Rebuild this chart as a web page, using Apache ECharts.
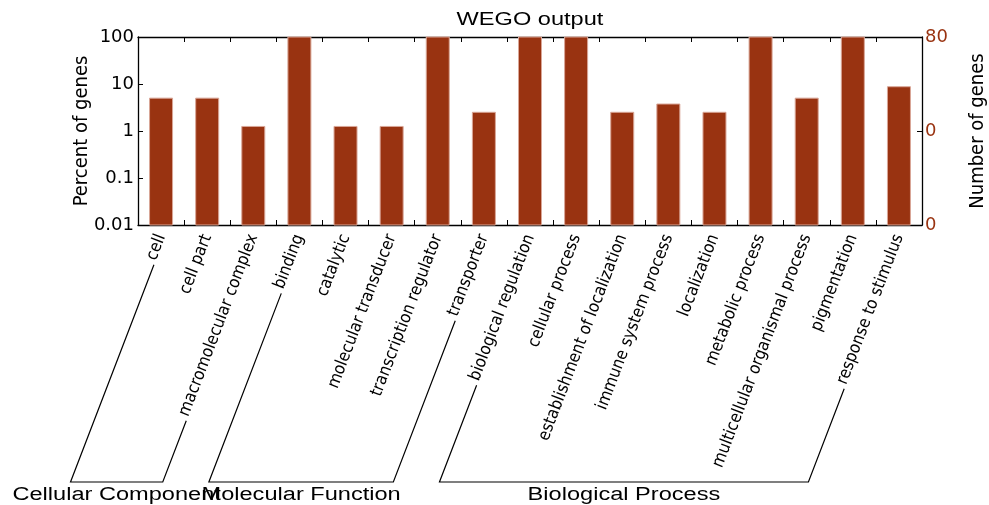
<!DOCTYPE html>
<html><head><meta charset="utf-8">
<script src="https://cdn.jsdelivr.net/npm/echarts@6/dist/echarts.min.js"></script>
<style>html,body{margin:0;padding:0;background:#fff}#c{width:989px;height:505px}</style>
</head><body><div id="c"></div>
<script>
const categories = ['cell','cell part','macromolecular complex','binding','catalytic','molecular transducer','transcription regulator','transporter','biological regulation','cellular process','establishment of localization','immune system process','localization','metabolic process','multicellular organismal process','pigmentation','response to stimulus'];
const percentValues = [5,5,1.25,100,1.25,1.25,100,2.5,100,100,2.5,3.75,2.5,100,5,100,8.75];
const leftTickLabels = ['0.01','0.1','1','10','100'];
const rightTickLabels = ['0','0','80'];
const groupNames = ['Cellular Component','Molecular Function','Biological Process'];
const groupFirst = [0,3,8];
const groupLast = [2,7,16];
const titleText = 'WEGO output';

const barColor = '#993311';
const condFamily = '"DejaVu Sans Condensed", "Liberation Sans Narrow", sans-serif';
const LABEL_SIZE = 17;
const labelFont = LABEL_SIZE + 'px ' + condFamily;
const ROT = 69, LABEL_MARGIN = 10, LABEL_PAD_TOP = 8, AXIS_MIN = 0.01;

const chart = echarts.init(document.getElementById('c'), null, {renderer:'canvas'});
const axisLine = {show:true, lineStyle:{color:'#000', width:1.3}};
chart.setOption({
  animation:false,
  backgroundColor:'#fff',
  grid:{left:138, right:67, top:37, bottom:280, containLabel:false, outerBoundsMode:'none'},
  xAxis:[{
    type:'category', data:categories, position:'bottom',
    axisLine:axisLine,
    axisTick:{show:true, inside:true, length:5, interval:0, lineStyle:{color:'#000'}},
    axisLabel:{interval:0, rotate:ROT, margin:LABEL_MARGIN, color:'#000', padding:[LABEL_PAD_TOP,0,0,0],
      fontFamily:condFamily, fontSize:LABEL_SIZE}
  },{
    type:'category', data:categories, position:'top',
    axisLine:axisLine,
    axisTick:{show:true, inside:true, length:5, interval:0, lineStyle:{color:'#000'}},
    axisLabel:{show:false}
  }],
  yAxis:[{
    type:'log', logBase:10, min:AXIS_MIN, max:100, position:'left',
    name:'Percent of genes', nameLocation:'middle', nameRotate:90, nameGap:46, nameMoveOverlap:false,
    nameTextStyle:{color:'#000', fontFamily:condFamily, fontSize:20},
    axisLine:axisLine,
    axisTick:{show:true, inside:true, length:5, lineStyle:{color:'#000'}},
    splitLine:{show:false},
    axisLabel:{margin:4, color:'#000', fontFamily:'"DejaVu Sans", sans-serif', fontSize:18,
      formatter:v=>leftTickLabels[Math.round(Math.log10(v))+2]}
  },{
    type:'value', min:0, max:2, interval:1, position:'right',
    name:'Number of genes', nameLocation:'middle', nameRotate:90, nameGap:46, nameMoveOverlap:false,
    nameTextStyle:{color:'#000', fontFamily:condFamily, fontSize:20},
    axisLine:axisLine,
    axisTick:{show:true, inside:true, length:5, lineStyle:{color:'#000'}},
    splitLine:{show:false},
    axisLabel:{margin:3, color:barColor, fontFamily:'"DejaVu Sans", sans-serif', fontSize:18,
      formatter:v=>rightTickLabels[Math.round(v)]}
  }],
  series:[{
    type:'custom', xAxisIndex:0, yAxisIndex:0,
    data:percentValues.map((v,i)=>[i,v]),
    encode:{x:0, y:1},
    renderItem:function(params, api){
      const top = api.coord([api.value(0), api.value(1)]);
      const bot = api.coord([api.value(0), AXIS_MIN]);
      const w = 23;
      return {type:'rect', shape:{x:top[0]-w/2, y:top[1], width:w, height:bot[1]-top[1]},
        style:{fill:barColor, stroke:'#d9a697', lineWidth:1}};
    }
  }]
});

function drawAnnotations(){
  const ctx = document.createElement('canvas').getContext('2d');
  ctx.font = labelFont;
  const th = ROT*Math.PI/180;
  const ux = Math.cos(th), uy = -Math.sin(th);
  const nx = Math.sin(th), ny = Math.cos(th);
  const axisY = chart.convertToPixel({yAxisIndex:0}, AXIS_MIN);
  const baseY = 482, gap = 4, shift = LABEL_PAD_TOP/2;
  const els = [];
  const plotL = chart.convertToPixel({xAxisIndex:0}, categories[0]);
  const plotR = chart.convertToPixel({xAxisIndex:0}, categories[categories.length-1]);
  els.push({type:'text', x:(plotL+plotR)/2, y:20, scaleX:1.31,
    style:{text:titleText, font:'18px "Liberation Sans", Arial, sans-serif', fill:'#000', align:'center', verticalAlign:'middle'}});
  groupNames.forEach((name,gi)=>{
    const ends = [groupFirst[gi], groupLast[gi]].map(i=>{
      const ex = chart.convertToPixel({xAxisIndex:0}, categories[i]) + shift*nx;
      const ey = axisY + LABEL_MARGIN + shift*ny;
      const L = ctx.measureText(categories[i]).width;
      const sx = ex - (L+gap)*ux, sy = ey - (L+gap)*uy;
      const t = (baseY - sy)/(-uy);
      return {s:[sx,sy], b:[sx - t*ux, baseY]};
    });
    els.push({type:'polyline', shape:{points:[ends[0].s, ends[0].b, ends[1].b, ends[1].s]},
      style:{stroke:'#000', lineWidth:1.2, fill:null}});
    els.push({type:'text', x:(ends[0].b[0]+ends[1].b[0])/2, y:495, scaleX:1.31,
      style:{text:name, font:'18px "Liberation Sans", Arial, sans-serif', fill:'#000', align:'center', verticalAlign:'middle'}});
  });
  chart.setOption({graphic:{elements:els}});
}
drawAnnotations();
</script></body></html>
